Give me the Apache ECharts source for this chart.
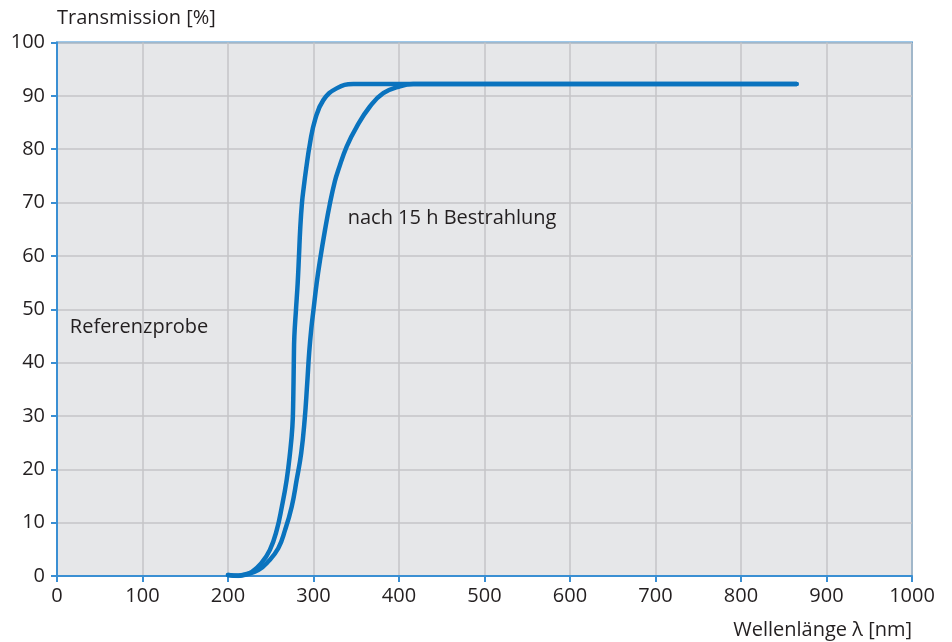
<!DOCTYPE html>
<html>
<head>
<meta charset="utf-8">
<script src="https://cdn.jsdelivr.net/npm/echarts@6/dist/echarts.min.js"></script>
<style>
  html, body { margin: 0; padding: 0; background: #ffffff; }
  #chart { width: 952px; height: 642px; }
</style>
</head>
<body>
<div id="chart"></div>
<script>
// Wavelength [nm] / transmission [%] pairs
var referenzprobe = [
  [200, 0.2], [212, 0.1], [220, 0.3], [228, 0.8], [239, 2.4], [249, 4.9],
  [257, 8.6], [263, 13.0], [268.6, 18.0], [272.5, 23.0], [275.3, 28.0],
  [276.3, 33.0], [277, 40.5], [277.6, 44.9], [279.5, 49.9], [281.5, 54.9],
  [283, 59.9], [284.4, 64.9], [286.5, 69.9], [288.7, 73.0], [291.2, 76.1],
  [295.9, 81.1], [301.8, 85.5], [311.5, 89.2], [327, 91.4], [346.6, 92.2],
  [865, 92.2]
];
var bestrahlt = [
  [200, 0.2], [212, 0.0], [220, 0.2], [235.4, 1.1], [247, 2.7], [258.8, 5.2],
  [266.7, 8.6], [274.5, 13.0], [280.3, 18.0], [285.6, 23.0], [289.6, 29.2],
  [292.6, 36.0], [295, 42.0], [297.5, 46.5], [300, 49.9], [303.7, 54.9],
  [307.6, 59.2], [313.5, 64.9], [319.3, 69.9], [325, 74.0], [329, 76.1],
  [338.8, 80.5], [350.5, 84.2], [366, 88.0], [381.6, 90.5], [401.2, 91.8],
  [416.7, 92.2], [865, 92.2]
];
var curveNames = ['Referenzprobe', 'nach 15 h Bestrahlung'];
var xTicks = [0, 100, 200, 300, 400, 500, 600, 700, 800, 900, 1000];
var yTicks = [0, 10, 20, 30, 40, 50, 60, 70, 80, 90, 100];

var FONT = '"Open Sans", sans-serif';
var FS = 20;
var TEXT = '#231f20';
var BLUE_AXIS = '#3a8fd3';
var BLUE_LINE = '#0a73be';

var chart = echarts.init(document.getElementById('chart'), null, { renderer: 'canvas' });

var axisCommon = {
  axisLine: { show: true, lineStyle: { color: BLUE_AXIS, width: 2 } },
  axisTick: { show: true, length: 6, lineStyle: { color: BLUE_AXIS, width: 2 } },
  splitLine: { show: true, lineStyle: { color: '#c4c5c7', width: 1.5 } }
};

function plain(v) { return String(v); }

chart.setOption({
  animation: false,
  backgroundColor: '#ffffff',
  grid: {
    left: 57, right: 40, top: 42.5, bottom: 66,
    show: true, backgroundColor: '#e6e7e9',
    borderColor: BLUE_AXIS, borderWidth: 2
  },
  xAxis: Object.assign({}, axisCommon, {
    type: 'value', min: xTicks[0], max: xTicks[xTicks.length - 1], interval: 100,
    name: 'Wellenlänge λ [nm]', nameLocation: 'end', nameGap: 0,
    nameTextStyle: {
      color: TEXT, fontFamily: FONT, fontSize: FS,
      align: 'right', verticalAlign: 'top', padding: [44, 0, 0, 0]
    },
    axisLabel: { color: TEXT, fontFamily: FONT, fontSize: FS, margin: 10, formatter: plain }
  }),
  yAxis: Object.assign({}, axisCommon, {
    type: 'value', min: yTicks[0], max: yTicks[yTicks.length - 1], interval: 10,
    name: 'Transmission [%]', nameLocation: 'end', nameGap: 24,
    nameTextStyle: {
      color: TEXT, fontFamily: FONT, fontSize: FS,
      align: 'left', verticalAlign: 'middle'
    },
    axisLabel: { color: TEXT, fontFamily: FONT, fontSize: FS, margin: 12, formatter: plain }
  }),
  series: [
    {
      name: curveNames[0], type: 'line', data: referenzprobe,
      showSymbol: false, smooth: 0.45,
      lineStyle: { color: BLUE_LINE, width: 4.5, cap: 'round', join: 'round' },
      markPoint: {
        symbol: 'circle', symbolSize: 0,
        label: {
          show: true, position: 'right', distance: 0, formatter: curveNames[0],
          color: TEXT, fontFamily: FONT, fontSize: FS
        },
        data: [{ coord: [15, 46.7] }]
      }
    },
    {
      name: curveNames[1], type: 'line', data: bestrahlt,
      showSymbol: false, smooth: 0.45,
      lineStyle: { color: BLUE_LINE, width: 4.5, cap: 'round', join: 'round' },
      markPoint: {
        symbol: 'circle', symbolSize: 0,
        label: {
          show: true, position: 'right', distance: 0, formatter: curveNames[1],
          color: TEXT, fontFamily: FONT, fontSize: FS
        },
        data: [{ coord: [340, 67.1] }]
      }
    }
  ]
});
</script>
</body>
</html>
